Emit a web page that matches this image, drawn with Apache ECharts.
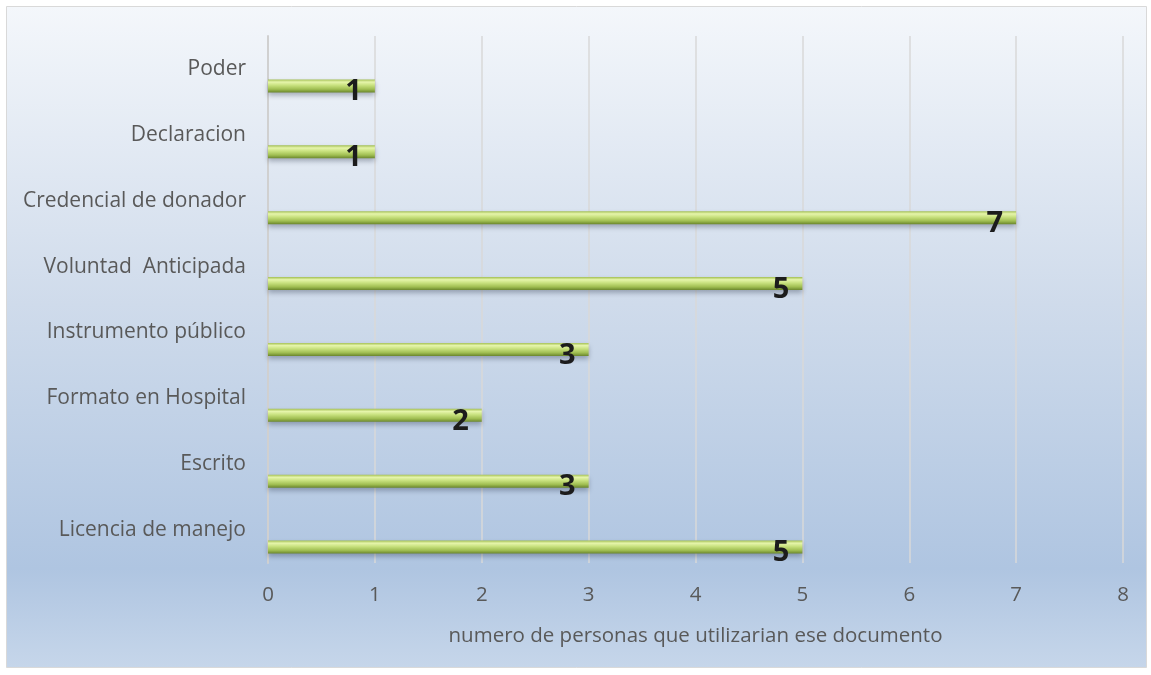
<!DOCTYPE html>
<html>
<head>
<meta charset="utf-8">
<script src="https://cdn.jsdelivr.net/npm/echarts@6/dist/echarts.min.js"></script>
<style>
  html, body { margin: 0; padding: 0; background: #ffffff; }
  #chart { width: 1151px; height: 675px; }
</style>
</head>
<body>
<div id="chart"></div>
<script>
// Documents, listed bottom to top as they appear on the category axis
const categories = [
  'Licencia de manejo',
  'Escrito',
  'Formato en Hospital',
  'Instrumento público',
  'Voluntad  Anticipada',
  'Credencial de donador',
  'Declaracion',
  'Poder'
];
// Number of people who would use each document
const personas = [5, 3, 2, 3, 5, 7, 1, 1];
const axisTitle = 'numero de personas que utilizarian ese documento';
const xTicks = [0, 1, 2, 3, 4, 5, 6, 7, 8];

const chart = echarts.init(document.getElementById('chart'));

const barFill = new echarts.graphic.LinearGradient(0, 0, 0, 1, [
  { offset: 0, color: '#a4c055' },
  { offset: 0.2, color: '#e6f5ab' },
  { offset: 0.45, color: '#c8e17e' },
  { offset: 0.75, color: '#a0be52' },
  { offset: 1, color: '#6a862c' }
]);

const textFont = 'Open Sans';

chart.setOption({
  animation: false,
  graphic: [{
    type: 'rect',
    z: -10,
    silent: true,
    shape: { x: 6.5, y: 6.5, width: 1140, height: 661 },
    style: {
      fill: new echarts.graphic.LinearGradient(0, 0, 0, 1, [
        { offset: 0, color: '#f4f7fb' },
        { offset: 0.45, color: '#cfdbeb' },
        { offset: 0.85, color: '#afc5e1' },
        { offset: 1, color: '#c6d6ea' }
      ]),
      stroke: '#d9d9d9',
      lineWidth: 1
    }
  }],
  grid: { left: 268, right: 28, top: 36, bottom: 112 },
  xAxis: {
    type: 'value',
    min: 0,
    max: xTicks[xTicks.length - 1],
    interval: 1,
    name: axisTitle,
    nameLocation: 'middle',
    nameGap: 63,
    nameTextStyle: { color: '#595959', fontSize: 20.5, fontFamily: textFont },
    axisLine: { show: false },
    axisTick: { show: false },
    axisLabel: {
      color: '#595959', fontSize: 20.5, fontFamily: textFont, margin: 22,
      formatter: v => String(v)
    },
    splitLine: { show: true, lineStyle: { color: '#d9d9d9', width: 1.5 } }
  },
  yAxis: {
    type: 'category',
    data: categories,
    axisLine: { show: true, lineStyle: { color: '#d0d0d0', width: 2 } },
    axisTick: { show: false },
    axisLabel: { color: '#595959', fontSize: 21, fontFamily: textFont, margin: 22 }
  },
  series: [
    {
      name: 'vacío',
      type: 'bar',
      data: categories.map(() => null),
      barWidth: 13,
      barGap: '162%'
    },
    {
      name: 'personas',
      type: 'bar',
      data: personas,
      barWidth: 13,
      itemStyle: {
        color: barFill,
        shadowColor: 'rgba(40,50,70,0.35)',
        shadowBlur: 5,
        shadowOffsetY: 3
      },
      label: {
        show: true,
        position: 'insideRight',
        offset: [-8, 6],
        color: '#1c1c1c',
        fontSize: 29,
        fontWeight: 'bold',
        fontFamily: textFont
      }
    }
  ]
});
</script>
</body>
</html>
